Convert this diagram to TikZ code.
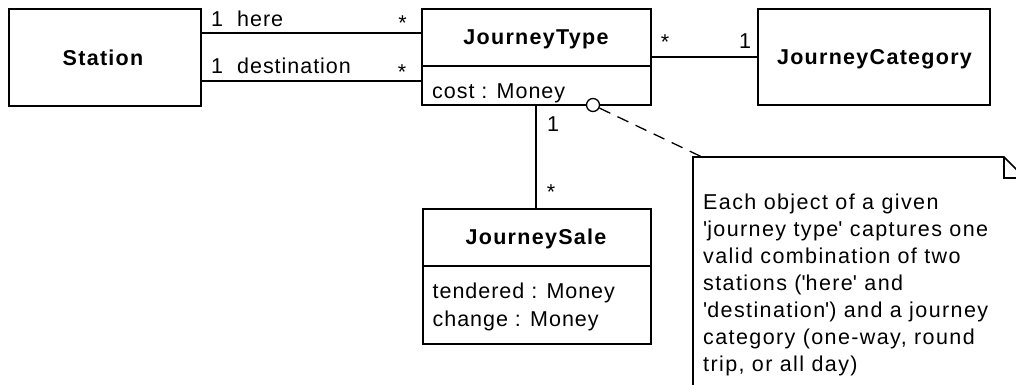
\documentclass[tikz,border=0pt]{standalone}
\usepackage{fontspec}
\setmainfont{Liberation Sans}[LetterSpace=4.5,BoldFeatures={LetterSpace=6}]
\newfontfamily\notefont{Liberation Sans}[LetterSpace=6.5]
\usetikzlibrary{calc}
\begin{document}
\begin{tikzpicture}[x=1pt,y=-1pt,
  classbox/.style={draw, line width=1.6pt, inner sep=0pt},
  lbl/.style={inner sep=0pt, font=\fontsize{21.5}{27}\selectfont},
  notelbl/.style={inner sep=0pt, font=\notefont\fontsize{21.5}{27}\selectfont},
  namelbl/.style={inner sep=0pt, anchor=base, font=\fontsize{21.5}{27}\selectfont\bfseries},
  conn/.style={line width=1.3pt},
  divider/.style={line width=1.4pt},
  notelink/.style={line width=1.3pt, dash pattern=on 12pt off 8pt},
  noteshape/.style={line width=1.6pt}]
\useasboundingbox (0,0) rectangle (1016,385);
% classes
\node[classbox, minimum width=192pt, minimum height=97pt] (st) at (105,57.5) {};
\node[namelbl] (stname) at (103,66) {Station};
\node[classbox, minimum width=229pt, minimum height=96pt] (jt) at (536.5,57) {};
\node[namelbl] (jtname) at (536,44.5) {JourneyType};
\coordinate (jtdiv) at (0,66);
\draw[divider] (jt.west |- jtdiv) -- (jt.east |- jtdiv);
\node[lbl, anchor=base west] (jtattr) at (432,99) {cost : Money};
\node[classbox, minimum width=232pt, minimum height=96pt] (jc) at (874,57) {};
\node[namelbl] (jcname) at (874.5,65) {JourneyCategory};
\node[classbox, minimum width=228pt, minimum height=135pt] (js) at (537,276.5) {};
\node[namelbl] (jsname) at (536,244.3) {JourneySale};
\coordinate (jsdiv) at (0,266);
\draw[divider] (js.west |- jsdiv) -- (js.east |- jsdiv);
\node[lbl, anchor=base west] (jsattr1) at (432.5,298) {tendered : Money};
\node[lbl, anchor=base west] (jsattr2) at (432.5,326) {change : Money};
% associations
\coordinate (hereY) at (0,33);
\coordinate (destY) at (0,81);
\coordinate (catY) at (0,57);
\coordinate (saleX) at (536,0);
\draw[conn] (st.east |- hereY) -- (jt.west |- hereY);
\draw[conn] (st.east |- destY) -- (jt.west |- destY);
\draw[conn] (jt.east |- catY) -- (jc.west |- catY);
\draw[conn] (jt.south -| saleX) -- (js.north -| saleX);
\node[lbl, anchor=base west] (m1) at (211,27) {1};
\node[lbl, anchor=base west] (rhere) at (237,27) {here};
\node[lbl] (m2) at (402.5,23) {*};
\node[lbl, anchor=base west] (m3) at (211,74) {1};
\node[lbl, anchor=base west] (rdest) at (237,74) {destination};
\node[lbl] (m4) at (402,72) {*};
\node[lbl] (m5) at (665,42) {*};
\node[lbl] (m6) at (745,41) {1};
\node[lbl] (m7) at (553,124) {1};
\node[lbl] (m8) at (551,192) {*};
% note
\begin{scope}
\clip (0,0) rectangle (1016,385);
\draw[noteshape] (693,157) -- (1004,157) -- (1025,178) -- (1025,420) -- (693,420) -- cycle;
\draw[noteshape] (1004,157) -- (1004,178) -- (1025,178);
\end{scope}
\coordinate (notetl) at (702,157);
\node[notelbl, anchor=north west, align=left] (note) at (703,194) {Each object of a given\\
\textquotesingle journey type\textquotesingle{} captures one\\
valid combination of two\\
stations (\textquotesingle here\textquotesingle{} and\\
\textquotesingle destination\textquotesingle) and a journey\\
category (one-way, round\\
trip, or all day)};
\node[circle, draw, line width=1.3pt, fill=white, minimum size=13pt, inner sep=0pt] (circ) at (593,105) {};
\draw[notelink] (circ) -- (notetl);
\end{tikzpicture}
\end{document}
